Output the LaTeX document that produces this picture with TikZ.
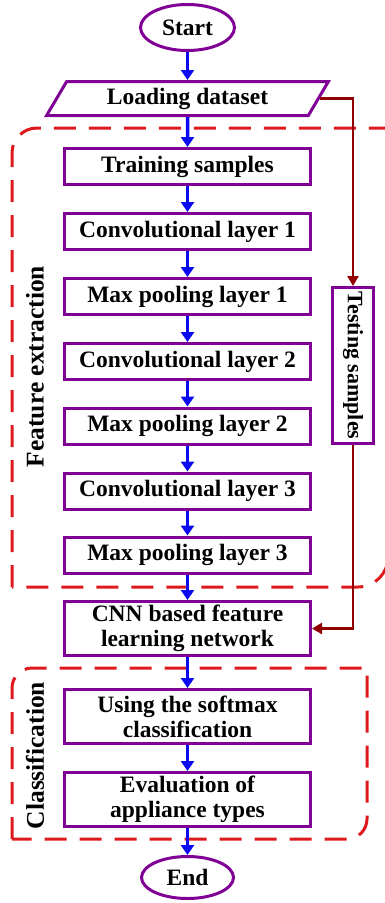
\documentclass[tikz,border=0pt]{standalone}
\usepackage{fontspec}
\setmainfont{Liberation Serif}
\usepackage{xcolor}
\usepackage{tikz}
\usetikzlibrary{shapes.geometric,arrows.meta}
\definecolor{boxpurple}{RGB}{128,0,150}
\definecolor{grpred}{RGB}{222,25,30}
\definecolor{flowblue}{RGB}{10,10,240}
\definecolor{testred}{RGB}{145,0,0}

\begin{document}
\begin{tikzpicture}[x=1pt, y=1pt, line width=3pt, font=\fontsize{23.5}{25}\selectfont\bfseries]
    \tikzstyle{blk}=[draw=boxpurple, rectangle, minimum width=246pt, minimum height=36pt, inner sep=2pt, align=center]
    \tikzstyle{tallblk}=[blk, minimum height=54pt]
    \tikzstyle{term}=[draw=boxpurple, ellipse, inner sep=1pt]
    \tikzstyle{grp}=[draw=grpred, dash pattern=on 22pt off 13pt]
    \tikzstyle{flow}=[draw=flowblue, line width=3.5pt, -{Triangle[length=10pt,width=13pt]}]
    \tikzstyle{back}=[draw=testred, line width=2.5pt, -{Triangle[length=10pt,width=11pt]}]
    \tikzstyle{side}=[font=\fontsize{25.5}{27}\selectfont\bfseries, rotate=90]
    \useasboundingbox (0,0) rectangle (385,-903);
    \draw[grp] (12,-587) -- (12,-153) arc (180:90:25) -- (388,-128) -- (388,-557) arc (0:-90:30) -- cycle;
    \draw[grp] (12,-839) -- (12,-688) arc (180:90:20) -- (367,-668) -- (367,-819) arc (0:-90:20) -- cycle;
    \node[term, minimum width=94pt, minimum height=46pt] (start) at (187.5,-27.5) {Start};
    \node[draw=boxpurple, trapezium, trapezium left angle=60, trapezium right angle=120, trapezium stretches=true,
          minimum width=282pt, minimum height=34pt, inner sep=1pt] (load) at (187.5,-98.5) {Loading dataset};
    \node[blk] (train) at (187.5,-166.5) {Training samples};
    \node[blk] (conv1) at (187.5,-231.5) {Convolutional layer 1};
    \node[blk] (pool1) at (187.5,-296.5) {Max pooling layer 1};
    \node[blk] (conv2) at (187.5,-361.5) {Convolutional layer 2};
    \node[blk] (pool2) at (187.5,-426) {Max pooling layer 2};
    \node[blk] (conv3) at (187.5,-491) {Convolutional layer 3};
    \node[blk] (pool3) at (187.5,-555) {Max pooling layer 3};
    \node[tallblk] (cnn) at (187.5,-628.5) {CNN based feature\\learning network};
    \node[tallblk] (soft) at (187.5,-716.5) {Using the softmax\\classification};
    \node[tallblk] (eval) at (187.5,-799.5) {Evaluation of\\appliance types};
    \node[term, minimum width=92pt, minimum height=42pt] (end) at (187.5,-877.5) {End};
    \node[draw=boxpurple, rotate=-90, minimum width=156pt, minimum height=41pt, inner sep=1pt,
          font=\fontsize{22}{24}\selectfont\bfseries] (test) at (353,-365.5) {Testing samples};
    \node[side] (featlbl) at (35,-366.5) {Feature extraction};
    \node[side] (clslbl) at (35,-755.5) {Classification};
    \draw[flow] (start) -- (load);
    \draw[flow] (load) -- (train);
    \draw[flow] (train) -- (conv1);
    \draw[flow] (conv1) -- (pool1);
    \draw[flow] (pool1) -- (conv2);
    \draw[flow] (conv2) -- (pool2);
    \draw[flow] (pool2) -- (conv3);
    \draw[flow] (conv3) -- (pool3);
    \draw[flow] (pool3) -- (cnn);
    \draw[flow] (cnn) -- (soft);
    \draw[flow] (soft) -- (eval);
    \draw[flow] (eval) -- (end);
    \draw[back] (load.east) -| (test.west);
    \draw[back] (test.east) |- (cnn.east);
\end{tikzpicture}
\end{document}
